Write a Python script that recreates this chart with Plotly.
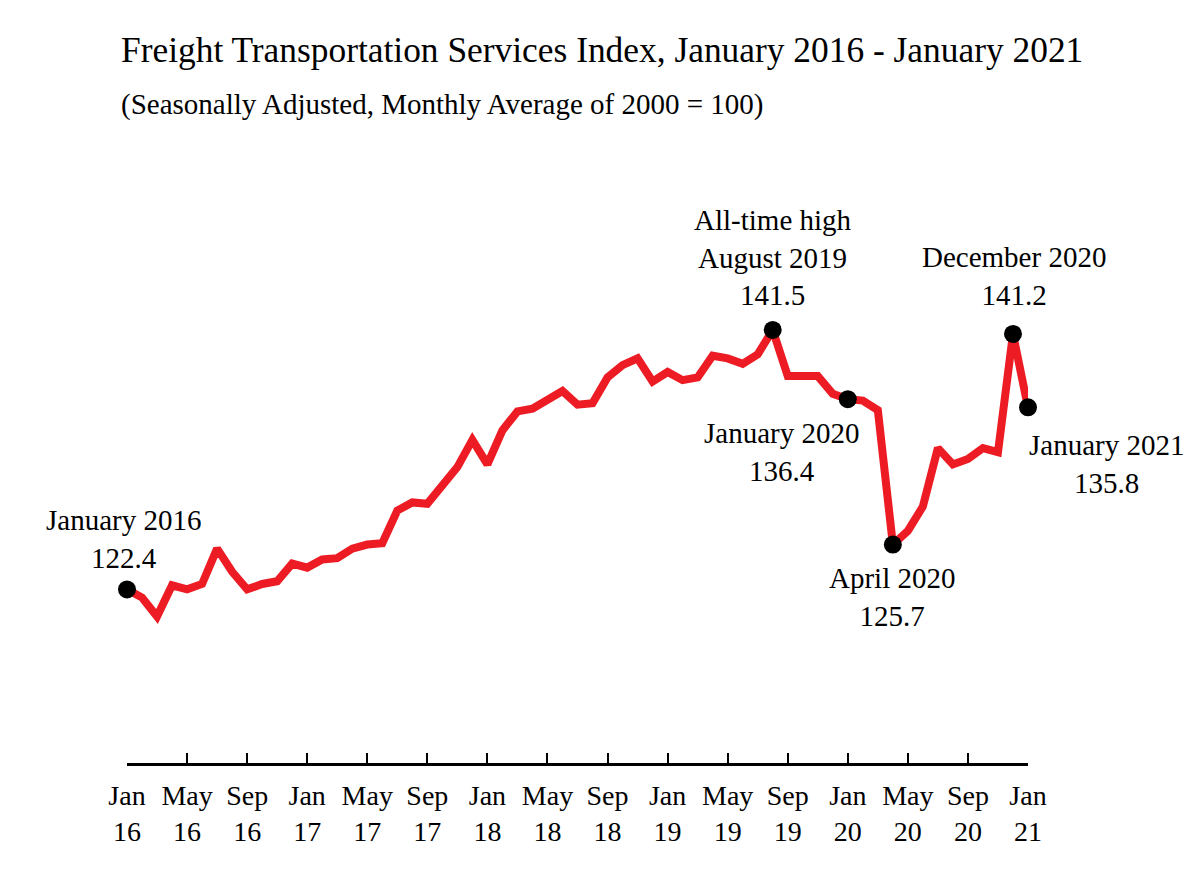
import plotly.graph_objects as go

# ---- data ----
month_index = list(range(61))  # Jan 2016 .. Jan 2021
tsi_values = [122.4, 121.8, 120.4, 122.7, 122.4, 122.8, 125.4, 123.7, 122.4, 122.8,
              123.0, 124.3, 124.0, 124.6, 124.7, 125.4, 125.7, 125.8, 128.2, 128.8,
              128.7, 130.1, 131.4, 133.4, 131.6, 134.1, 135.5, 135.7, 136.3, 137.0,
              136.0, 136.1, 138.0, 138.9, 139.4, 137.7, 138.4, 137.8, 138.0, 139.6,
              139.4, 139.0, 139.7, 141.5, 138.1, 138.1, 138.1, 136.8, 136.4, 136.3,
              135.6, 125.7, 126.7, 128.5, 132.8, 131.6, 132.0, 132.8, 132.5, 141.2,
              135.8]

tick_positions = [0, 4, 8, 12, 16, 20, 24, 28, 32, 36, 40, 44, 48, 52, 56, 60]
tick_labels = ["Jan<br>16", "May<br>16", "Sep<br>16", "Jan<br>17", "May<br>17", "Sep<br>17",
               "Jan<br>18", "May<br>18", "Sep<br>18", "Jan<br>19", "May<br>19", "Sep<br>19",
               "Jan<br>20", "May<br>20", "Sep<br>20", "Jan<br>21"]

highlight_index = [0, 43, 48, 51, 59, 60]
highlight_text = ["January 2016<br>122.4",
                  "All-time high<br>August 2019<br>141.5",
                  "January 2020<br>136.4",
                  "April 2020<br>125.7",
                  "December 2020<br>141.2",
                  "January 2021<br>135.8"]
label_xshift = [-4, 0, -66, -1, 1, 78]
label_yshift = [50, 72, -53, -52, 58, -57]

FONT = "Liberation Serif, Times New Roman, serif"
RED = "#ED1C24"

# figure-pixel geometry (page has an 8px body margin)
L, R, T, B = 119, 1020, 162, 755
W, H = 1200, 876

fig = go.Figure()
fig.add_trace(go.Scatter(x=month_index, y=tsi_values, mode="lines",
                         line=dict(color=RED, width=8), cliponaxis=False,
                         hoverinfo="skip", showlegend=False))
fig.add_trace(go.Scatter(x=highlight_index, y=[tsi_values[i] for i in highlight_index],
                         mode="markers", marker=dict(color="black", size=18),
                         cliponaxis=False, showlegend=False))

annotations = []
for i, txt, dx, dy in zip(highlight_index, highlight_text, label_xshift, label_yshift):
    annotations.append(dict(x=i, y=tsi_values[i], xref="x", yref="y", text=txt,
                            showarrow=False, xanchor="center", yanchor="middle",
                            xshift=dx, yshift=dy, align="center",
                            font=dict(family=FONT, size=29, color="black")))


def paper_x(px):
    return (px - L) / (R - L)


def paper_y(py):
    return (B - py) / (B - T)


annotations.append(dict(x=paper_x(111), y=paper_y(42), xref="paper", yref="paper",
                        text="Freight Transportation Services Index, January 2016 - January 2021",
                        showarrow=False, xanchor="left", yanchor="middle",
                        font=dict(family=FONT, size=35.4, color="black")))
annotations.append(dict(x=paper_x(111), y=paper_y(97), xref="paper", yref="paper",
                        text="(Seasonally Adjusted, Monthly Average of 2000 = 100)",
                        showarrow=False, xanchor="left", yanchor="middle",
                        font=dict(family=FONT, size=29, color="black")))

fig.update_layout(
    width=W, height=H,
    margin=dict(l=L, r=W - R, t=T, b=H - B),
    paper_bgcolor="white", plot_bgcolor="white",
    annotations=annotations,
    xaxis=dict(range=[0, 60], tickvals=tick_positions, ticktext=tick_labels,
               ticks="inside", ticklen=10, tickwidth=2, tickcolor="black",
               showline=True, linewidth=3, linecolor="black",
               showgrid=False, zeroline=False, ticklabelstandoff=5,
               tickfont=dict(family=FONT, size=28, color="black")),
    yaxis=dict(range=[109.62, 153.27], visible=False, showgrid=False, zeroline=False),
    showlegend=False,
)

fig.write_html("out.html")
